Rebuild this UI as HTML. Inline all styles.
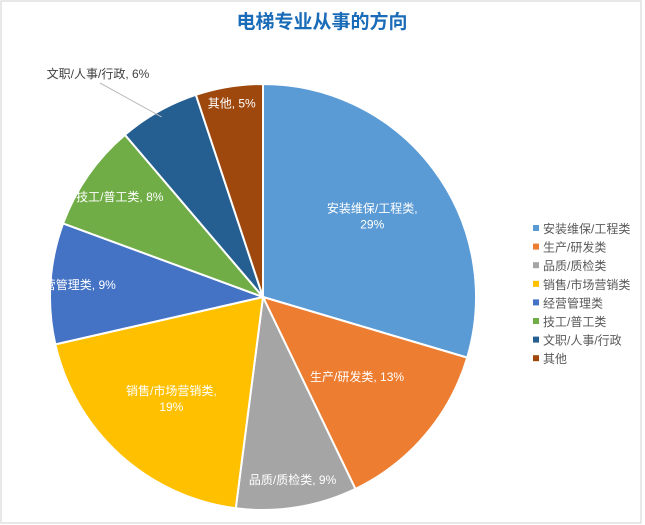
<!DOCTYPE html>
<html><head><meta charset="utf-8"><style>
body{margin:0;background:#fff;}
#wrap{position:relative;width:645px;height:525px;overflow:hidden;font-family:"Liberation Sans","Noto Sans CJK SC",sans-serif;}
</style></head><body>
<div id="wrap">
<svg id="chart" width="645" height="525">
<rect x="1" y="1" width="640" height="522" fill="#fff" stroke="#d0d0d0"/>
<text x="322" y="28" text-anchor="middle" font-size="19" font-weight="bold" fill="#1a6cb8">电梯专业从事的方向</text>
</svg>
</div>
<script>
const categories=["安装维保/工程类","生产/研发类","品质/质检类","销售/市场营销类","经营管理类","技工/普工类","文职/人事/行政","其他"];
const values=[29,13,9,19,9,8,6,5];
const colors=["#5b9bd5","#ed7d31","#a5a5a5","#ffc000","#4472c4","#70ad47","#255e91","#9e480e"];
const labelR=[0.64,0.58,0.87,0.64,0.89,0.82,0,0.92];
const svg=document.getElementById('chart');
const NS='http://www.w3.org/2000/svg';
const cx=263,cy=297,r=213;
const total=values.reduce((a,b)=>a+b,0);
function pt(a,rr){return [cx+rr*Math.sin(a),cy-rr*Math.cos(a)];}
let a0=0;
values.forEach((v,i)=>{
  const a1=a0+v/total*2*Math.PI;
  const p0=pt(a0,r),p1=pt(a1,r);
  const large=(a1-a0)>Math.PI?1:0;
  const path=document.createElementNS(NS,'path');
  path.setAttribute('d',`M${cx},${cy}L${p0[0]},${p0[1]}A${r},${r} 0 ${large} 1 ${p1[0]},${p1[1]}Z`);
  path.setAttribute('fill',colors[i]);
  path.setAttribute('stroke','#fff');
  path.setAttribute('stroke-width','2');
  
  
  svg.appendChild(path);
  const mid=(a0+a1)/2;
  const lab=categories[i]+', '+v+'%';
  if(labelR[i]===0){
    const e=pt(mid,r*0.97);
    const ln=document.createElementNS(NS,'line');
    ln.setAttribute('x1',e[0]);ln.setAttribute('y1',e[1]);ln.setAttribute('x2',100);ln.setAttribute('y2',83);
    ln.setAttribute('stroke','#bbb');
    
    
    svg.appendChild(ln);
    const t=document.createElementNS(NS,'text');
    t.setAttribute('x',98);t.setAttribute('y',78);t.setAttribute('text-anchor','middle');
    t.setAttribute('font-size','12');t.setAttribute('fill','#404040');
    t.textContent=lab;
    
    
    svg.appendChild(t);
  } else {
    const p=pt(mid,r*labelR[i]);
    const t=document.createElementNS(NS,'text');
    t.setAttribute('text-anchor','middle');t.setAttribute('font-size','12');t.setAttribute('fill','#fff');
    if(i===0||i===3){
      t.setAttribute('x',p[0]);t.setAttribute('y',p[1]-3);
      const s1=document.createElementNS(NS,'tspan');s1.setAttribute('x',p[0]);s1.textContent=categories[i]+',';
      const s2=document.createElementNS(NS,'tspan');s2.setAttribute('x',p[0]);s2.setAttribute('dy','16');s2.textContent=v+'%';
      t.appendChild(s1);t.appendChild(s2);
    } else {
      t.setAttribute('x',p[0]);t.setAttribute('y',p[1]+4);t.textContent=lab;
    }
    
    
    svg.appendChild(t);
  }
  a0=a1;
});
categories.forEach((c,i)=>{
  const y=229+i*18.6;
  const g=document.createElementNS(NS,'g');
  
  
  const rc=document.createElementNS(NS,'rect');
  rc.setAttribute('x',533);rc.setAttribute('y',y-4);rc.setAttribute('width',6);rc.setAttribute('height',6);rc.setAttribute('fill',colors[i]);
  const t=document.createElementNS(NS,'text');
  t.setAttribute('x',543);t.setAttribute('y',y+4);t.setAttribute('font-size','12');t.setAttribute('fill','#595959');
  t.textContent=c;
  g.appendChild(rc);g.appendChild(t);svg.appendChild(g);
});
</script>
</body></html>
